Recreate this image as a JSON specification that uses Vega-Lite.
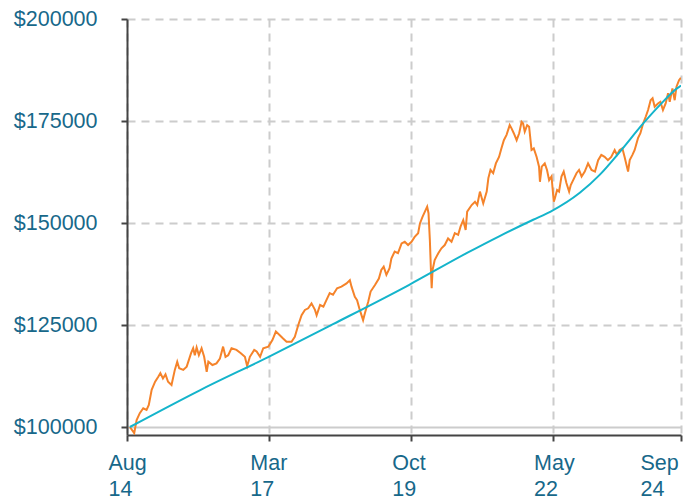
{
  "$schema": "https://vega.github.io/schema/vega-lite/v6.json",
  "width": 554,
  "height": 416,
  "autosize": "none",
  "padding": {"left": 127, "top": 19, "right": 2, "bottom": 63},
  "background": "white",
  "config": {"view": {"stroke": null}},
  "datasets": {
    "portfolio": [
      {"date": "2014-08-20", "value": 100000},
      {"date": "2014-09-18", "value": 98500},
      {"date": "2014-10-04", "value": 101700},
      {"date": "2014-10-25", "value": 103400},
      {"date": "2014-11-17", "value": 104600},
      {"date": "2014-12-09", "value": 104200},
      {"date": "2014-12-24", "value": 105400},
      {"date": "2015-01-12", "value": 109100},
      {"date": "2015-02-04", "value": 111100},
      {"date": "2015-02-25", "value": 112300},
      {"date": "2015-03-11", "value": 113200},
      {"date": "2015-03-28", "value": 111900},
      {"date": "2015-04-14", "value": 112900},
      {"date": "2015-05-01", "value": 111100},
      {"date": "2015-05-24", "value": 110300},
      {"date": "2015-06-15", "value": 114000},
      {"date": "2015-07-01", "value": 116000},
      {"date": "2015-07-14", "value": 114400},
      {"date": "2015-08-10", "value": 114000},
      {"date": "2015-09-02", "value": 114800},
      {"date": "2015-10-01", "value": 118100},
      {"date": "2015-10-15", "value": 119300},
      {"date": "2015-10-26", "value": 117600},
      {"date": "2015-11-07", "value": 119500},
      {"date": "2015-11-22", "value": 117600},
      {"date": "2015-12-10", "value": 119300},
      {"date": "2015-12-27", "value": 117200},
      {"date": "2016-01-13", "value": 113500},
      {"date": "2016-01-24", "value": 116000},
      {"date": "2016-02-20", "value": 115200},
      {"date": "2016-03-18", "value": 115600},
      {"date": "2016-04-10", "value": 116800},
      {"date": "2016-05-01", "value": 119700},
      {"date": "2016-05-17", "value": 117200},
      {"date": "2016-06-04", "value": 117600},
      {"date": "2016-06-26", "value": 119300},
      {"date": "2016-07-29", "value": 118900},
      {"date": "2016-08-27", "value": 118100},
      {"date": "2016-09-23", "value": 117200},
      {"date": "2016-10-08", "value": 114900},
      {"date": "2016-10-26", "value": 117200},
      {"date": "2016-11-24", "value": 118900},
      {"date": "2016-12-10", "value": 118500},
      {"date": "2017-01-02", "value": 117200},
      {"date": "2017-01-23", "value": 119300},
      {"date": "2017-02-26", "value": 119700},
      {"date": "2017-03-25", "value": 121300},
      {"date": "2017-04-17", "value": 123400},
      {"date": "2017-05-13", "value": 122500},
      {"date": "2017-06-04", "value": 121700},
      {"date": "2017-06-27", "value": 120900},
      {"date": "2017-07-30", "value": 120900},
      {"date": "2017-08-21", "value": 122100},
      {"date": "2017-09-13", "value": 125000},
      {"date": "2017-10-05", "value": 127400},
      {"date": "2017-10-27", "value": 128700},
      {"date": "2017-11-18", "value": 129100},
      {"date": "2017-12-10", "value": 130300},
      {"date": "2018-01-02", "value": 128700},
      {"date": "2018-01-13", "value": 127400},
      {"date": "2018-02-05", "value": 129900},
      {"date": "2018-02-27", "value": 129500},
      {"date": "2018-03-19", "value": 131100},
      {"date": "2018-04-10", "value": 132800},
      {"date": "2018-05-02", "value": 132400},
      {"date": "2018-05-29", "value": 134000},
      {"date": "2018-06-27", "value": 134400},
      {"date": "2018-07-31", "value": 135200},
      {"date": "2018-08-22", "value": 136000},
      {"date": "2018-09-02", "value": 134400},
      {"date": "2018-09-24", "value": 131900},
      {"date": "2018-10-09", "value": 131100},
      {"date": "2018-10-27", "value": 128700},
      {"date": "2018-11-18", "value": 126200},
      {"date": "2018-11-30", "value": 127900},
      {"date": "2018-12-22", "value": 130700},
      {"date": "2019-01-07", "value": 133200},
      {"date": "2019-02-05", "value": 134800},
      {"date": "2019-03-03", "value": 136400},
      {"date": "2019-03-19", "value": 138500},
      {"date": "2019-04-04", "value": 139300},
      {"date": "2019-04-22", "value": 137300},
      {"date": "2019-05-13", "value": 138900},
      {"date": "2019-05-25", "value": 141300},
      {"date": "2019-06-16", "value": 143000},
      {"date": "2019-07-08", "value": 142600},
      {"date": "2019-08-01", "value": 145000},
      {"date": "2019-08-22", "value": 145400},
      {"date": "2019-09-13", "value": 144600},
      {"date": "2019-10-06", "value": 145400},
      {"date": "2019-10-27", "value": 146600},
      {"date": "2019-11-19", "value": 147500},
      {"date": "2019-12-01", "value": 149900},
      {"date": "2019-12-18", "value": 151500},
      {"date": "2020-01-03", "value": 152800},
      {"date": "2020-01-18", "value": 154000},
      {"date": "2020-01-27", "value": 152400},
      {"date": "2020-02-05", "value": 145800},
      {"date": "2020-02-12", "value": 138500},
      {"date": "2020-02-17", "value": 134000},
      {"date": "2020-02-23", "value": 138500},
      {"date": "2020-03-08", "value": 140900},
      {"date": "2020-04-01", "value": 142600},
      {"date": "2020-04-22", "value": 143800},
      {"date": "2020-05-14", "value": 144600},
      {"date": "2020-06-05", "value": 146200},
      {"date": "2020-06-28", "value": 145400},
      {"date": "2020-07-20", "value": 147500},
      {"date": "2020-08-11", "value": 147100},
      {"date": "2020-08-27", "value": 149100},
      {"date": "2020-09-14", "value": 150700},
      {"date": "2020-09-30", "value": 148300},
      {"date": "2020-10-10", "value": 152800},
      {"date": "2020-11-09", "value": 154400},
      {"date": "2020-12-01", "value": 155200},
      {"date": "2020-12-16", "value": 154400},
      {"date": "2021-01-03", "value": 157700},
      {"date": "2021-01-25", "value": 154800},
      {"date": "2021-02-17", "value": 157700},
      {"date": "2021-02-28", "value": 161000},
      {"date": "2021-03-14", "value": 163000},
      {"date": "2021-04-01", "value": 162200},
      {"date": "2021-04-19", "value": 164600},
      {"date": "2021-05-10", "value": 166200},
      {"date": "2021-05-26", "value": 168300},
      {"date": "2021-06-11", "value": 170300},
      {"date": "2021-06-29", "value": 171600},
      {"date": "2021-07-20", "value": 174000},
      {"date": "2021-08-01", "value": 173200},
      {"date": "2021-08-16", "value": 172000},
      {"date": "2021-09-04", "value": 170300},
      {"date": "2021-09-21", "value": 172000},
      {"date": "2021-10-07", "value": 174800},
      {"date": "2021-10-17", "value": 174400},
      {"date": "2021-10-28", "value": 172400},
      {"date": "2021-11-13", "value": 174000},
      {"date": "2021-11-26", "value": 173600},
      {"date": "2021-12-12", "value": 167900},
      {"date": "2021-12-27", "value": 168300},
      {"date": "2022-01-15", "value": 166200},
      {"date": "2022-01-31", "value": 163800},
      {"date": "2022-02-06", "value": 160100},
      {"date": "2022-02-18", "value": 163800},
      {"date": "2022-03-10", "value": 164600},
      {"date": "2022-03-25", "value": 163000},
      {"date": "2022-04-08", "value": 160500},
      {"date": "2022-04-24", "value": 161400},
      {"date": "2022-05-09", "value": 155200},
      {"date": "2022-05-16", "value": 156000},
      {"date": "2022-05-31", "value": 158100},
      {"date": "2022-06-13", "value": 157700},
      {"date": "2022-06-29", "value": 161400},
      {"date": "2022-07-14", "value": 162600},
      {"date": "2022-08-01", "value": 159800},
      {"date": "2022-08-19", "value": 157700},
      {"date": "2022-08-30", "value": 159300},
      {"date": "2022-09-15", "value": 160500},
      {"date": "2022-10-07", "value": 162200},
      {"date": "2022-10-24", "value": 163000},
      {"date": "2022-11-10", "value": 161400},
      {"date": "2022-12-01", "value": 162600},
      {"date": "2022-12-23", "value": 164600},
      {"date": "2023-01-15", "value": 163000},
      {"date": "2023-02-07", "value": 162600},
      {"date": "2023-02-28", "value": 165400},
      {"date": "2023-03-21", "value": 166700},
      {"date": "2023-04-12", "value": 166200},
      {"date": "2023-05-04", "value": 165400},
      {"date": "2023-05-26", "value": 166200},
      {"date": "2023-06-18", "value": 167900},
      {"date": "2023-07-03", "value": 166700},
      {"date": "2023-07-21", "value": 167900},
      {"date": "2023-08-08", "value": 168300},
      {"date": "2023-08-23", "value": 166200},
      {"date": "2023-09-15", "value": 162600},
      {"date": "2023-09-26", "value": 165400},
      {"date": "2023-10-14", "value": 166700},
      {"date": "2023-10-29", "value": 167900},
      {"date": "2023-11-20", "value": 170800},
      {"date": "2023-12-06", "value": 172000},
      {"date": "2023-12-24", "value": 174400},
      {"date": "2024-01-11", "value": 176100},
      {"date": "2024-01-26", "value": 177700},
      {"date": "2024-02-12", "value": 180100},
      {"date": "2024-02-25", "value": 180600},
      {"date": "2024-03-10", "value": 178500},
      {"date": "2024-04-01", "value": 179300},
      {"date": "2024-04-17", "value": 179700},
      {"date": "2024-05-04", "value": 177700},
      {"date": "2024-05-22", "value": 179300},
      {"date": "2024-06-07", "value": 181800},
      {"date": "2024-06-18", "value": 179700},
      {"date": "2024-07-06", "value": 183000},
      {"date": "2024-07-21", "value": 180100},
      {"date": "2024-08-02", "value": 183400},
      {"date": "2024-08-19", "value": 185000},
      {"date": "2024-08-31", "value": 185600}
    ],
    "trend": [
      {"date": "2014-08-20", "value": 100000},
      {"date": "2015-11-28", "value": 109000},
      {"date": "2017-02-28", "value": 117200},
      {"date": "2018-05-02", "value": 125200},
      {"date": "2019-09-18", "value": 134800},
      {"date": "2020-10-06", "value": 142600},
      {"date": "2021-05-14", "value": 146800},
      {"date": "2021-12-23", "value": 150800},
      {"date": "2022-04-18", "value": 152800},
      {"date": "2022-10-29", "value": 157400},
      {"date": "2023-03-10", "value": 161800},
      {"date": "2023-07-21", "value": 167400},
      {"date": "2023-12-22", "value": 174300},
      {"date": "2024-04-13", "value": 178900},
      {"date": "2024-08-05", "value": 183000},
      {"date": "2024-09-01", "value": 183700}
    ]
  },
  "encoding": {
    "x": {
      "field": "date",
      "type": "temporal",
      "scale": {
        "type": "utc",
        "domain": [
          {"year": 2014, "month": 8, "date": 1, "utc": true},
          {"year": 2024, "month": 9, "date": 1, "utc": true}
        ]
      },
      "axis": {
        "title": null,
        "values": [
          {"year": 2014, "month": 8, "date": 1, "utc": true},
          {"year": 2017, "month": 3, "date": 1, "utc": true},
          {"year": 2019, "month": 10, "date": 1, "utc": true},
          {"year": 2022, "month": 5, "date": 1, "utc": true},
          {"year": 2024, "month": 9, "date": 1, "utc": true}
        ],
        "labelExpr": "[utcFormat(datum.value, '%b'), utcFormat(datum.value, '%y')]",
        "labelAlign": "left",
        "labelOffset": {"condition": {"test": "utcyear(datum.value) === 2024", "value": -41}, "value": -19},
        "labelBaseline": "top",
        "labelPadding": 11,
        "labelLineHeight": 26,
        "labelFont": "Liberation Sans",
        "labelFontSize": 21.5,
        "labelColor": "#17688a",
        "labelOverlap": false,
        "labelFlush": false,
        "labelBound": false,
        "domainColor": "#444444",
        "domainWidth": 2,
        "tickColor": "#444444",
        "tickWidth": 2,
        "tickSize": 6,
        "grid": true,
        "gridColor": "#cccccc",
        "gridWidth": 2,
        "gridDash": [8, 6]
      }
    },
    "y": {
      "field": "value",
      "type": "quantitative",
      "scale": {"domain": [98040, 200000], "nice": false, "zero": false},
      "axis": {
        "title": null,
        "values": [100000, 125000, 150000, 175000, 200000],
        "labelExpr": "'$' + datum.value",
        "labelFont": "Liberation Sans",
        "labelFontSize": 21.5,
        "labelColor": "#17688a",
        "labelPadding": 24,
        "domainColor": "#444444",
        "domainWidth": 2,
        "tickColor": "#444444",
        "tickWidth": 2,
        "tickSize": 6,
        "grid": true,
        "gridColor": "#cccccc",
        "gridWidth": 2,
        "gridDash": {"condition": {"test": "datum.value === 100000", "value": []}, "value": [8, 6]}
      }
    }
  },
  "layer": [
    {
      "data": {"name": "portfolio"},
      "mark": {"type": "line", "color": "#f5832a", "strokeWidth": 2, "clip": true}
    },
    {
      "data": {"name": "trend"},
      "mark": {"type": "line", "color": "#14b4cb", "strokeWidth": 2, "interpolate": "monotone", "clip": true}
    }
  ]
}
